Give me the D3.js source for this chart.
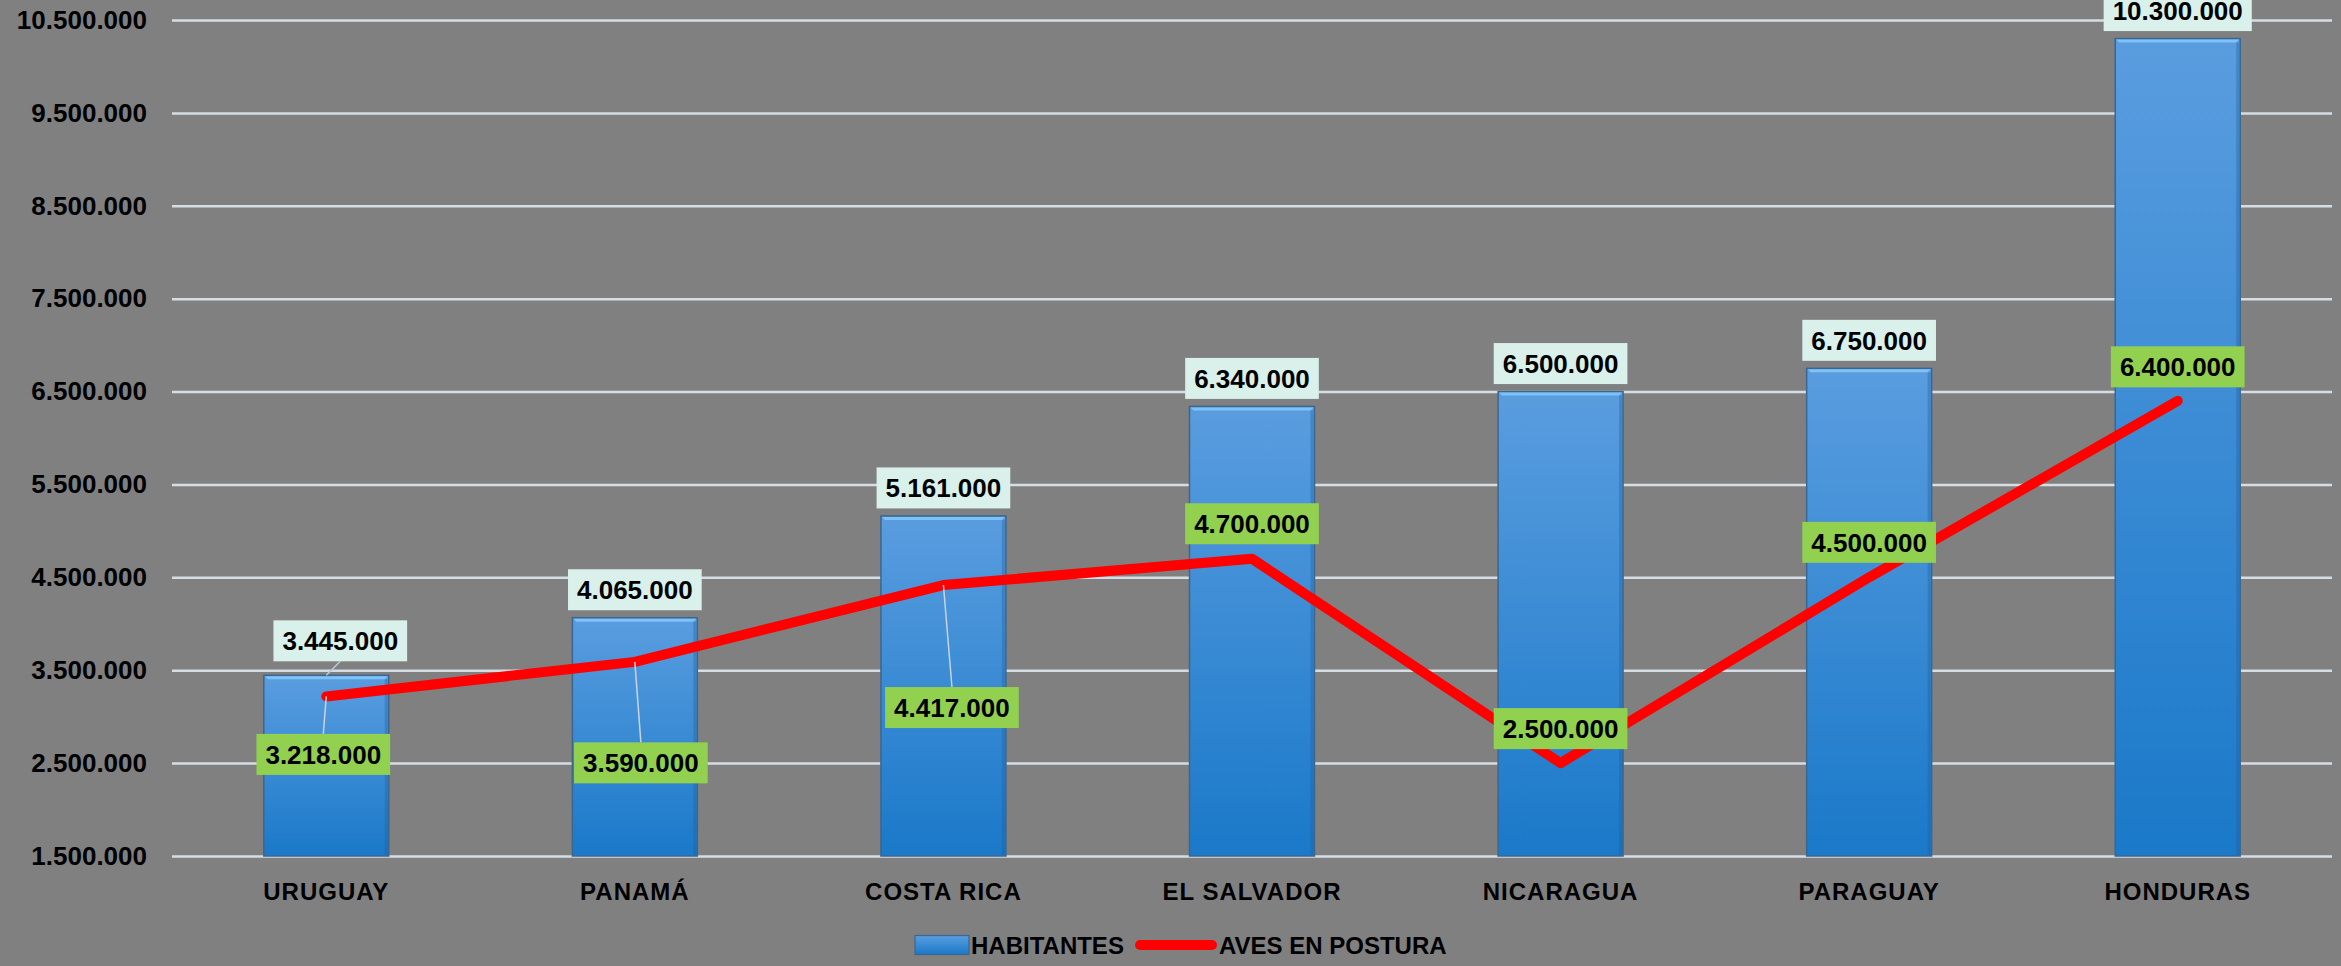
<!DOCTYPE html>
<html>
<head>
<meta charset="utf-8">
<script src="https://cdn.jsdelivr.net/npm/d3@7"></script>
<style>
  html, body { margin: 0; padding: 0; background: #808080; }
  svg { display: block; }
  text { font-family: "Liberation Sans", Arial, sans-serif; font-weight: bold; fill: #000; }
</style>
</head>
<body>
<svg id="chart" width="2341" height="966"></svg>
<script>
// ---- DATA ----
const categories = ["URUGUAY", "PANAMÁ", "COSTA RICA", "EL SALVADOR", "NICARAGUA", "PARAGUAY", "HONDURAS"];
const habitantes = [3445000, 4065000, 5161000, 6340000, 6500000, 6750000, 10300000];
const avesEnPostura = [3218000, 3590000, 4417000, 4700000, 2500000, 4500000, 6400000];
const seriesNames = ["HABITANTES", "AVES EN POSTURA"];
const yTickValues = [1500000, 2500000, 3500000, 4500000, 5500000, 6500000, 7500000, 8500000, 9500000, 10500000];

// ---- LAYOUT / STYLE ----
const W = 2341, H = 966;
const plot = { left: 172, right: 2332, top: 20, bottom: 856 };
// manual label placements (pixel offsets), as in the original chart
const habLabelOffsets = [[14, -6.5], [0, 0], [0, 0], [0, 0], [0, 0], [0, 0], [0, 0]];
const avesLabelOffsets = [[-3, 58], [6, 101], [8.5, 122.5], [0, -35], [0, -34.5], [0, -35], [0, -34]];

const loc = d3.formatLocale({ decimal: ",", thousands: ".", grouping: [3], currency: ["", ""] });
const fmt = loc.format(",d");

const svg = d3.select("#chart");
svg.append("rect").attr("width", W).attr("height", H).attr("fill", "#808080");

const defs = svg.append("defs");
const grad = defs.append("linearGradient").attr("id", "barGrad").attr("x1", 0).attr("y1", 0).attr("x2", 0).attr("y2", 1);
grad.append("stop").attr("offset", "0%").attr("stop-color", "#5a9ddf");
grad.append("stop").attr("offset", "100%").attr("stop-color", "#1a79c9");

const x = d3.scaleBand().domain(categories).range([plot.left, plot.right]).paddingInner(0.595).paddingOuter(0.2975);
const y = d3.scaleLinear().domain([1500000, 10500000]).range([plot.bottom, plot.top]);

// gridlines
svg.append("g")
  .attr("transform", `translate(${plot.left},0)`)
  .call(d3.axisLeft(y).tickValues(yTickValues).tickSize(-(plot.right - plot.left)).tickFormat(""))
  .call(g => g.select(".domain").remove())
  .call(g => g.selectAll(".tick line").attr("stroke", "#d5dde5").attr("stroke-width", 2.5));

// y axis labels
svg.append("g")
  .attr("transform", `translate(${plot.left},0)`)
  .call(d3.axisLeft(y).tickValues(yTickValues).tickSize(0).tickPadding(25).tickFormat(fmt))
  .call(g => g.select(".domain").remove())
  .call(g => g.selectAll("text").attr("font-size", 26).attr("font-family", "Liberation Sans, Arial, sans-serif").attr("font-weight", "bold").attr("fill", "#000"));

// x axis labels
svg.append("g")
  .attr("transform", `translate(0,${plot.bottom})`)
  .call(d3.axisBottom(x).tickSize(0).tickPadding(27))
  .call(g => g.select(".domain").remove())
  .call(g => g.selectAll("text").attr("font-size", 24).attr("letter-spacing", 1).attr("font-family", "Liberation Sans, Arial, sans-serif").attr("font-weight", "bold").attr("fill", "#000"));

// bars
const bw = x.bandwidth();
const barG = svg.append("g");
const bars = barG.selectAll("g.bar").data(categories.map((c, i) => ({ c, v: habitantes[i], i }))).join("g").attr("class", "bar");
bars.append("rect")
  .attr("x", d => x(d.c)).attr("y", d => y(d.v))
  .attr("width", bw).attr("height", d => y(1500000) - y(d.v))
  .attr("fill", "url(#barGrad)").attr("stroke", "#3a6791").attr("stroke-width", 1.5);
// bevel highlights
bars.append("path")
  .attr("d", d => {
    const x0 = x(d.c), y0 = y(d.v);
    return `M${x0 + 1},${y0 + 1} L${x0 + bw - 1},${y0 + 1} L${x0 + bw - 4},${y0 + 4} L${x0 + 4},${y0 + 4} Z`;
  })
  .attr("fill", "#7fc2f6");
bars.append("rect")
  .attr("x", d => x(d.c) + bw - 4).attr("y", d => y(d.v) + 4)
  .attr("width", 3).attr("height", d => y(1500000) - y(d.v) - 5)
  .attr("fill", "#1d5f9c").attr("opacity", 0.35);

// label helper
function drawLabel(g, cx, cy, str, fill) {
  const t = g.append("text").attr("x", cx).attr("y", cy).attr("dy", "0.36em")
    .attr("text-anchor", "middle").attr("font-size", 26).text(str);
  const w = t.node().getComputedTextLength() + 18;
  g.insert("rect", "text").attr("x", cx - w / 2).attr("y", cy - 20.5).attr("width", w).attr("height", 41).attr("fill", fill);
}

// habitantes labels
const habLab = svg.append("g");
categories.forEach((c, i) => {
  const cx0 = x(c) + bw / 2, top = y(habitantes[i]);
  const [dx, dy] = habLabelOffsets[i];
  const cx = cx0 + dx, cy = top - 28 + dy;
  const g = habLab.append("g");
  if (dx !== 0 || dy !== 0) {
    g.append("line").attr("x1", cx0).attr("y1", top).attr("x2", cx).attr("y2", cy + 20.5)
      .attr("stroke", "#b8c8d8").attr("stroke-width", 1.5);
  }
  drawLabel(g, cx, cy, fmt(habitantes[i]), "#daf0ea");
});

// line
const pts = categories.map((c, i) => [x(c) + bw / 2, y(avesEnPostura[i])]);
svg.append("path")
  .attr("d", d3.line()(pts))
  .attr("fill", "none").attr("stroke", "#ff0000").attr("stroke-width", 10)
  .attr("stroke-linejoin", "round").attr("stroke-linecap", "round");

// aves labels
const avLab = svg.append("g");
categories.forEach((c, i) => {
  const [px, py] = pts[i];
  const [dx, dy] = avesLabelOffsets[i];
  const cx = px + dx, cy = py + dy;
  const g = avLab.append("g");
  if (dy > 40) {
    g.append("line").attr("x1", px).attr("y1", py).attr("x2", cx).attr("y2", cy - 20.5)
      .attr("stroke", "#c8d4e0").attr("stroke-width", 1.5);
  }
  drawLabel(g, cx, cy, fmt(avesEnPostura[i]), "#92d050");
});

// legend
const leg = svg.append("g").attr("transform", "translate(0,945)");
leg.append("rect").attr("x", 915).attr("y", -9.5).attr("width", 54).attr("height", 19)
  .attr("fill", "url(#barGrad)").attr("stroke", "#3a6791").attr("stroke-width", 1.2);
leg.append("text").attr("x", 971).attr("y", 0).attr("dy", "0.36em").attr("font-size", 24).text(seriesNames[0]);
leg.append("line").attr("x1", 1140).attr("x2", 1212).attr("y1", 0).attr("y2", 0)
  .attr("stroke", "#ff0000").attr("stroke-width", 10).attr("stroke-linecap", "round");
leg.append("text").attr("x", 1219).attr("y", 0).attr("dy", "0.36em").attr("font-size", 24).text(seriesNames[1]);
</script>
</body>
</html>
